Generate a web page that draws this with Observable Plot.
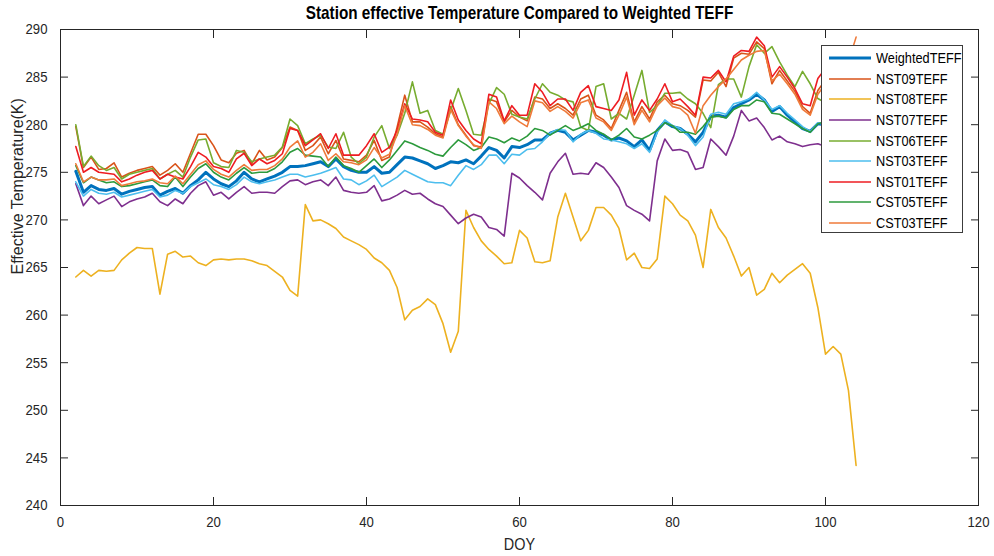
<!DOCTYPE html>
<html><head><meta charset="utf-8">
<script src="https://cdn.jsdelivr.net/npm/d3@7"></script>
<script src="https://cdn.jsdelivr.net/npm/@observablehq/plot@0.6"></script>
<style>
body{margin:0;background:#fff;}
#wrap{position:relative;width:994px;height:556px;overflow:hidden;background:#fff;}
#legend{position:absolute;left:821px;top:45px;width:142px;height:188px;background:#fff;border:1px solid #3c3c3c;box-sizing:border-box;}
.row{position:absolute;left:0;height:20px;display:flex;align-items:center;white-space:nowrap;}
.row svg{margin-left:7px;display:block}
.row span{color:#000;margin-left:5px;line-height:20px;display:inline-block;transform:scaleX(0.85);transform-origin:0 50%;}
</style></head><body><div id="wrap"></div>
<script>
const doy = [2,3,4,5,6,7,8,9,10,11,12,13,14,15,16,17,18,19,20,21,22,23,24,25,26,27,28,29,30,31,32,33,34,35,36,37,38,39,40,41,42,43,44,45,46,47,48,49,50,51,52,53,54,55,56,57,58,59,60,61,62,63,64,65,66,67,68,69,70,71,72,73,74,75,76,77,78,79,80,81,82,83,84,85,86,87,88,89,90,91,92,93,94,95,96,97,98,99,100,101,102,103,104];

const weightedTEFF = [275.1,272.9,273.6,273.2,273.1,273.3,272.7,273.0,273.2,273.4,
273.5,272.6,273.0,273.3,272.8,273.6,274.2,275.0,274.3,273.8,
273.5,274.1,275.0,274.3,274.0,274.3,274.6,275.0,275.6,275.6,
275.7,275.9,276.1,275.6,276.4,275.6,275.2,275.0,275.0,275.6,
274.9,275.0,275.8,276.6,276.5,276.2,275.9,275.4,275.7,276.1,
276.0,276.3,275.9,276.7,277.6,277.3,276.5,277.7,277.6,277.9,
278.4,278.4,279.1,279.4,279.2,278.4,278.9,279.4,279.2,278.9,
278.4,278.6,278.3,277.7,278.4,277.3,279.4,280.3,279.8,279.6,
279.0,278.2,279.2,280.9,281.0,280.8,281.8,282.2,282.6,283.2,
282.6,281.4,281.9,281.0,280.3,279.6,279.3,280.1,280.0];

const nst09TEFF = [279.8,275.5,276.6,275.3,275.4,276.0,274.5,274.9,275.2,275.4,
275.6,274.7,275.2,275.9,275.0,277.0,279.0,279.0,277.8,276.3,
276.0,277.0,277.3,275.9,277.3,276.3,276.6,277.6,279.75,279.4,
277.3,277.8,278.7,276.95,278.35,276.4,276.25,276.1,276.8,278.35,
276.25,276.6,279.75,283.1,280.3,280.3,279.75,279.05,278.7,281.9,
280.0,278.9,277.8,277.65,282.7,282.4,280.3,281.5,280.8,280.4,
282.9,282.7,281.7,282.2,281.7,281.0,282.7,283.1,281.0,280.5,
279.6,281.5,283.4,280.3,281.9,280.6,282.4,283.1,282.2,282.0,
281.5,280.8,284.7,284.6,285.5,284.0,287.0,287.5,287.4,288.7,
288.0,284.3,285.7,284.6,283.5,281.9,281.2,283.6,284.7];

const nst08TEFF = [264.0,264.7,264.1,264.7,264.6,264.7,265.8,266.5,267.1,267.0,
267.0,262.2,266.4,266.7,266.1,266.2,265.5,265.2,265.8,265.9,
265.8,265.9,265.9,265.7,265.4,265.2,264.6,264.0,262.6,262.0,
271.6,269.9,270.0,269.6,269.1,268.2,267.8,267.4,266.9,266.0,
265.5,264.7,262.9,259.5,260.5,260.9,261.7,261.1,259.1,256.1,
258.3,271.0,269.2,267.8,266.9,266.2,265.4,265.5,268.9,268.1,
265.6,265.5,265.7,270.3,272.8,270.3,267.8,268.9,271.3,271.3,
270.5,269.1,265.8,266.5,265.0,264.9,265.9,272.5,271.7,270.5,
269.9,268.4,265.0,271.1,269.2,268.1,266.2,264.1,265.0,262.1,
262.7,264.4,263.4,264.2,264.8,265.4,264.4,260.8,255.9,256.7,
255.9,252.1,244.2];

const nst07TEFF = [273.8,271.5,272.5,271.7,272.1,272.5,271.4,271.9,272.2,272.4,
272.8,271.9,271.5,272.2,271.7,272.8,273.6,274.0,272.6,272.9,
272.2,272.9,273.5,272.8,272.9,272.9,272.8,273.5,274.1,274.2,
273.7,274.0,274.2,273.6,274.5,273.1,272.9,272.8,272.9,273.6,
272.0,272.2,272.6,273.1,272.7,272.8,272.2,271.7,271.4,270.5,
269.6,270.2,270.6,270.3,269.2,269.0,268.3,274.9,274.4,273.6,
272.9,272.1,274.9,276.1,277.0,274.8,274.9,274.8,276.0,275.5,
274.5,273.4,271.5,271.0,270.6,269.9,276.2,278.5,277.3,277.4,
277.1,275.3,275.5,278.5,277.7,276.8,278.8,281.5,280.4,280.7,
279.7,278.4,278.8,278.2,278.0,277.7,277.9,278.0,277.7];

const nst06TEFF = [280.0,275.6,276.7,275.7,275.2,275.5,274.3,274.8,275.0,275.2,
275.4,274.3,274.8,275.2,274.5,276.6,278.4,278.5,276.0,275.6,
275.5,277.3,277.1,276.1,276.4,276.6,276.8,277.65,280.6,279.9,
278.0,278.5,278.9,277.65,277.5,279.2,276.6,275.9,276.6,278.7,
279.9,277.5,278.9,281.2,284.5,281.2,281.5,279.4,279.0,281.5,
283.8,281.5,279.0,278.9,282.2,283.9,283.2,281.1,280.8,280.6,
282.7,284.3,283.4,283.1,282.6,282.4,279.75,279.4,284.0,284.3,
280.6,281.2,280.6,283.1,285.7,281.3,282.0,283.3,283.3,283.4,
282.7,282.2,281.2,279.7,284.2,284.8,284.8,282.9,286.1,288.4,
287.5,288.2,286.6,285.2,284.0,285.6,284.3,282.75,282.3];

const nst03TEFF = [274.0,272.5,273.2,272.8,272.7,272.9,272.4,272.6,272.8,273.0,
273.2,272.4,272.6,273.1,272.8,273.5,273.9,274.3,273.7,273.5,
273.2,273.7,274.5,274.0,273.8,274.0,274.2,274.5,274.8,274.8,
274.5,274.7,274.9,275.2,275.5,274.3,274.2,273.7,274.1,274.7,
273.5,274.0,274.5,275.2,274.8,274.4,274.0,273.9,273.9,273.6,
274.7,275.7,275.3,275.8,276.8,276.8,275.9,276.9,276.8,277.4,
277.5,278.2,279.1,279.5,279.4,278.2,279.0,279.4,279.1,278.5,
278.4,278.2,278.0,277.5,278.0,277.1,279.2,280.5,279.9,279.6,
278.9,277.8,278.7,281.1,281.3,281.1,282.2,282.4,282.7,283.4,
282.6,281.6,282.0,281.2,280.5,279.8,279.3,280.2,280.0];

const nst01TEFF = [277.7,275.0,275.5,275.0,274.9,274.8,274.0,274.3,274.7,275.0,
275.2,274.3,274.8,274.5,274.3,275.6,277.1,276.6,275.6,275.4,
275.0,276.4,277.0,275.7,276.4,275.9,276.25,276.95,279.6,279.4,
277.8,278.4,279.05,277.5,279.05,276.8,276.8,276.8,277.8,279.05,
277.1,277.65,279.4,282.2,280.6,280.5,280.3,279.2,278.9,282.6,
280.5,279.4,278.5,278.0,283.2,282.9,280.4,282.0,281.0,281.0,
284.3,283.4,282.0,282.7,282.7,281.5,283.4,284.1,281.9,281.7,
281.5,282.6,285.5,281.0,282.6,281.5,282.7,284.3,282.4,282.7,
281.9,281.0,285.0,284.9,285.7,284.5,287.2,287.8,287.7,289.2,
288.3,285.0,286.1,285.0,283.8,282.2,282.0,284.85,285.9];

const cst05TEFF = [275.7,273.9,274.5,274.2,273.9,274.0,273.5,273.6,273.8,274.0,
274.2,273.6,273.5,274.5,273.5,274.5,275.4,275.9,275.0,274.5,
274.2,274.9,275.5,274.9,275.0,275.0,275.4,276.1,277.1,277.5,
276.8,276.7,276.6,275.6,276.6,275.7,275.4,275.0,275.7,276.4,
275.5,276.3,277.3,278.3,278.0,277.6,277.3,276.9,276.7,277.6,
278.4,277.9,277.3,277.6,278.7,278.5,278.1,278.6,278.3,278.8,
279.6,279.4,278.9,279.4,279.9,279.4,279.7,280.1,279.4,279.0,
278.4,278.9,279.6,278.7,278.5,278.9,279.4,280.2,279.9,279.2,
279.2,279.0,279.8,280.8,280.9,280.7,281.6,282.0,282.0,282.6,
282.4,281.2,281.1,280.6,280.1,279.6,279.2,280.1,280.3];

const cst03TEFF = [275.9,274.0,274.5,274.2,274.2,274.3,273.6,273.8,274.0,274.1,
274.3,273.9,273.8,274.6,273.8,274.8,275.8,276.2,275.3,274.8,
274.5,275.2,275.8,275.2,275.3,275.3,275.7,276.4,277.65,278.3,
276.6,277.1,278.0,276.25,276.95,276.1,276.0,275.8,276.3,277.6,
276.5,276.9,279.0,282.0,280.0,279.9,279.5,278.9,278.6,281.6,
279.9,278.8,277.9,277.5,282.4,281.7,280.1,280.9,280.3,279.8,
282.5,282.3,281.4,281.9,281.4,280.7,282.3,282.6,280.7,280.3,
279.4,281.0,282.9,280.0,281.5,280.3,282.0,282.8,281.9,281.7,
281.0,279.1,282.0,283.1,284.0,284.8,285.8,286.8,287.3,287.7,
287.8,284.6,285.3,284.3,283.2,281.6,281.0,283.2,284.3,285.0,
285.8,286.6,289.2];

const seriesNames = ["WeightedTEFF","NST09TEFF","NST08TEFF","NST07TEFF","NST06TEFF","NST03TEFF","NST01TEFF","CST05TEFF","CST03TEFF"];
const seriesValues = [weightedTEFF,nst09TEFF,nst08TEFF,nst07TEFF,nst06TEFF,nst03TEFF,nst01TEFF,cst05TEFF,cst03TEFF];
const seriesColors = ["#0072BD","#D95319","#EDB120","#7E2F8E","#77AC30","#4DBEEE","#EE1C22","#2C9A3C","#EF7A3A"];
const xTicks = [0,20,40,60,80,100,120];
const yTicks = [240,245,250,255,260,265,270,275,280,285,290];
const titleText = "Station effective Temperature Compared to Weighted TEFF";
const xLabel = "DOY";
const yLabel = "Effective Temperature(K)";

const hFont = "'Liberation Sans', Arial, sans-serif";
const squeezeF = 0.85;

const rows = [];
seriesNames.forEach((name, s) => {
  seriesValues[s].forEach((v, i) => rows.push({doy: doy[i], value: v, series: name}));
});
const weightedRows = rows.filter(d => d.series === "WeightedTEFF");
const otherRows = rows.filter(d => d.series !== "WeightedTEFF");

const axisColor = "#262626";
const chart = Plot.plot({
  width: 994, height: 556,
  marginLeft: 60, marginRight: 16, marginTop: 29, marginBottom: 51,
  x: {domain: [0,120], label: null},
  y: {domain: [240,290], label: null},
  color: {domain: seriesNames, range: seriesColors},
  style: {background: "white", color: axisColor, fontFamily: hFont},
  marks: [
    Plot.line(weightedRows, {x: "doy", y: "value", stroke: "series", strokeWidth: 3}),
    Plot.line(otherRows, {x: "doy", y: "value", z: "series", stroke: "series", strokeWidth: 1.6}),
    Plot.frame({stroke: axisColor, strokeWidth: 1}),
    Plot.axisX({ticks: xTicks, anchor: "bottom", tickSize: -8, tickPadding: 18, fontSize: 15.5, stroke: axisColor, fill: axisColor}),
    Plot.axisX({ticks: xTicks, anchor: "top", tickSize: -8, tickFormat: () => "", stroke: axisColor}),
    Plot.axisY({ticks: yTicks, anchor: "left", tickSize: -8, tickPadding: 21, fontSize: 15.5, stroke: axisColor, fill: axisColor}),
    Plot.axisY({ticks: yTicks, anchor: "right", tickSize: -8, tickFormat: () => "", stroke: axisColor}),
    Plot.text([titleText], {text: d => d, frameAnchor: "top", dy: -23, fontWeight: "bold", fontSize: 18, fill: "#000"}),
    Plot.text([xLabel], {text: d => d, frameAnchor: "bottom", dy: 44, fontSize: 17, fill: axisColor}),
    Plot.text([yLabel], {text: d => d, frameAnchor: "left", dx: -43, dy: 7, rotate: -90, fontSize: 16, fill: axisColor})
  ]
});
// condense horizontal text like the reference's narrow lettering (scale about each text's anchor point)
chart.querySelectorAll("text").forEach(t => {
  if (t.textContent === yLabel) return;
  const tr = t.getAttribute("transform") || "";
  const x = parseFloat(t.getAttribute("x") || "0") || 0;
  t.setAttribute("transform", `${tr} translate(${x},0) scale(${squeezeF},1) translate(${-x},0)`.trim());
});
const wrap = document.getElementById("wrap");
wrap.appendChild(chart);

const legend = document.createElement("div");
legend.id = "legend";
seriesNames.forEach((name, i) => {
  const row = document.createElement("div");
  row.className = "row";
  row.style.top = (2.3 + i*20.55) + "px";
  const sw = i === 0 ? 3 : 1.6;
  row.innerHTML = `<svg width="42" height="20"><line x1="0" y1="10" x2="42" y2="10" stroke="${seriesColors[i]}" stroke-width="${sw}"/></svg><span style="font-family:${hFont};font-size:15px">${name}</span>`;
  legend.appendChild(row);
});
wrap.appendChild(legend);
</script></body></html>
